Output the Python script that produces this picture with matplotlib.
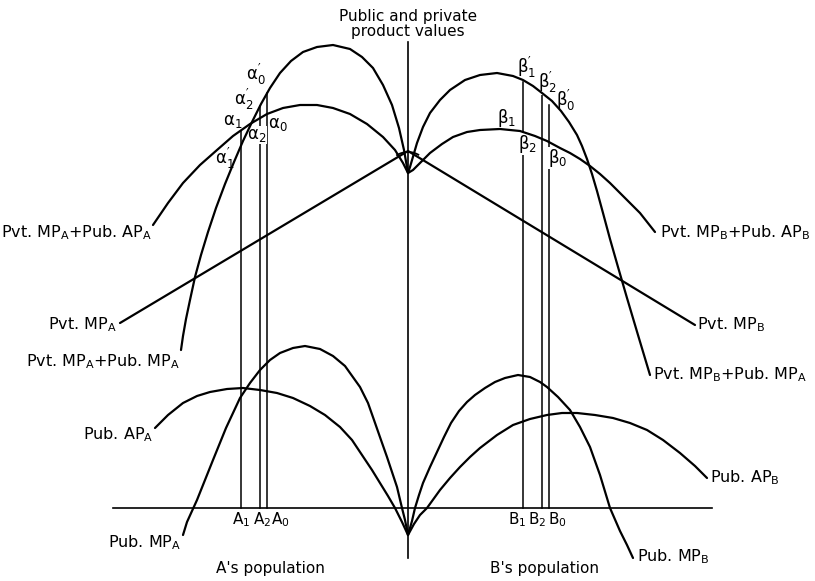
import matplotlib
matplotlib.use("Agg")
import matplotlib.pyplot as plt
from matplotlib.patches import Arc

plt.rcParams['font.family'] = ['DejaVu Sans']
plt.rcParams['mathtext.default'] = 'regular'

# --- curves (pixel coords, y grows downwards) ---
# A side (left of the vertical axis)
pvt_pub_ap_a_x = [153, 168, 183, 200, 217, 233, 250, 267, 283, 300, 317, 333, 350, 367, 383, 395, 403, 408]
pvt_pub_ap_a_y = [225, 203, 183, 165, 150, 136, 124, 114, 108, 105, 105, 108, 114, 124, 137, 150, 163, 173]

pvt_pub_mp_a_x = [181, 183, 186, 190, 195, 201, 208, 216, 225, 234, 243, 252, 261, 270, 280, 291, 303, 317, 333,
                  350, 362, 373, 383, 392, 399, 404, 408]
pvt_pub_mp_a_y = [350, 336, 319, 300, 277, 255, 232, 208, 184, 162, 141, 122, 104, 88, 73, 61, 52, 47, 45,
                  49, 57, 68, 85, 105, 128, 150, 173]

pvt_mp_a_x = [120, 408]
pvt_mp_a_y = [323, 151]

pub_ap_a_x = [155, 168, 183, 197, 210, 227, 243, 260, 277, 293, 310, 325, 340, 352, 362, 372, 380, 388, 395, 402, 408]
pub_ap_a_y = [428, 415, 403, 396, 392, 389, 388, 390, 393, 398, 406, 415, 427, 440, 455, 470, 483, 496, 508, 522, 535]

pub_mp_a_x = [183, 187, 197, 205, 213, 226, 240, 250, 260, 270, 280, 293, 305, 320, 333, 345, 360, 368, 374, 381, 387,
              392, 397, 402, 405, 408]
pub_mp_a_y = [535, 522, 500, 480, 460, 428, 398, 383, 370, 360, 353, 348, 346, 349, 356, 366, 387, 403, 420, 440, 457,
              472, 487, 508, 520, 535]

# B side (right of the vertical axis)
pvt_pub_mp_b_x = [408, 410, 417, 423, 430, 440, 450, 465, 480, 497, 513, 523, 533, 542, 552, 561, 569, 577, 582,
                  587, 592, 597, 603, 610, 618, 627, 638, 650]
pvt_pub_mp_b_y = [173, 167, 143, 127, 113, 100, 90, 80, 75, 73, 76, 80, 86, 93, 101, 111, 122, 135, 146,
                  159, 174, 191, 213, 239, 267, 298, 335, 375]

pvt_pub_ap_b_x = [408, 413, 420, 430, 442, 453, 467, 480, 500, 520, 535, 547, 560, 570, 580, 590, 600, 610, 620,
                  640, 655]
pvt_pub_ap_b_y = [173, 170, 163, 153, 144, 137, 132, 130, 129, 131, 136, 141, 148, 153, 159, 166, 174, 183, 193,
                  213, 232]

pvt_mp_b_x = [408, 695]
pvt_mp_b_y = [151, 325]

pub_mp_b_x = [408, 412, 415, 419, 423, 430, 437, 444, 451, 459, 467, 475, 485, 495, 505, 518, 530, 540, 547, 558,
              570, 580, 590, 600, 610, 620, 627, 633]
pub_mp_b_y = [535, 521, 508, 495, 483, 467, 452, 437, 423, 411, 402, 395, 388, 382, 378, 375, 377, 382, 387, 397,
              410, 427, 447, 475, 508, 531, 545, 558]

pub_ap_b_x = [408, 414, 420, 427, 440, 450, 460, 470, 480, 497, 513, 530, 547, 562, 577, 595, 613, 630, 647, 663,
              680, 695, 707]
pub_ap_b_y = [535, 524, 515, 508, 490, 478, 467, 457, 448, 435, 425, 419, 415, 413, 413, 415, 418, 423, 430, 440,
              453, 466, 478]

# equilibrium population lines: x position and top of the line
a_lines_x = [241, 260, 267]
a_lines_top = [130, 106, 93]
a_names = ['A$_1$', 'A$_2$', 'A$_0$']
b_lines_x = [523, 542, 549]
b_lines_top = [82, 93, 105]
b_names = ['B$_1$', 'B$_2$', 'B$_0$']

fig = plt.figure(figsize=(8.15, 5.81), dpi=100)
ax = fig.add_axes([0, 0, 1, 1])
ax.set_xlim(0, 815)
ax.set_ylim(581, 0)
ax.axis('off')

lw = 1.6
curves = [
    (pvt_pub_ap_a_x, pvt_pub_ap_a_y), (pvt_pub_mp_a_x, pvt_pub_mp_a_y),
    (pvt_mp_a_x, pvt_mp_a_y), (pub_ap_a_x, pub_ap_a_y), (pub_mp_a_x, pub_mp_a_y),
    (pvt_pub_mp_b_x, pvt_pub_mp_b_y), (pvt_pub_ap_b_x, pvt_pub_ap_b_y),
    (pvt_mp_b_x, pvt_mp_b_y), (pub_mp_b_x, pub_mp_b_y), (pub_ap_b_x, pub_ap_b_y),
]
for cx, cy in curves:
    ax.plot(cx, cy, color='black', lw=lw, solid_joinstyle='round', solid_capstyle='round', zorder=3)

# axes
ax.plot([113, 712], [508, 508], color='black', lw=1.2, zorder=2)
ax.plot([408, 408], [42, 558], color='black', lw=1.2, zorder=2)

# angle mark at the top kink
ax.add_patch(Arc((408, 173), 42, 42, theta1=236, theta2=302, color='black', lw=1.3, zorder=3))

# vertical lines
for x, top in zip(a_lines_x + b_lines_x, a_lines_top + b_lines_top):
    ax.plot([x, x], [508, top], color='black', lw=1.1, zorder=1)

# labels on the axes
for x, name in zip([241, 262, 280], a_names):
    ax.text(x, 520, name, ha='center', va='center', fontsize=11)
for x, name in zip([517, 537, 557], b_names):
    ax.text(x, 520, name, ha='center', va='center', fontsize=11)

ax.text(408, 24, 'Public and private\nproduct values', ha='center', va='center',
        fontsize=11, linespacing=1.05)
ax.text(270, 568, "A's population", ha='center', va='center', fontsize=11)
ax.text(545, 568, "B's population", ha='center', va='center', fontsize=11)

fs = 11.5
ax.text(152, 233, 'Pvt. MP$_A$+Pub. AP$_A$', ha='right', va='center', fontsize=fs)
ax.text(117, 325, 'Pvt. MP$_A$', ha='right', va='center', fontsize=fs)
ax.text(180, 362, 'Pvt. MP$_A$+Pub. MP$_A$', ha='right', va='center', fontsize=fs)
ax.text(153, 435, 'Pub. AP$_A$', ha='right', va='center', fontsize=fs)
ax.text(181, 543, 'Pub. MP$_A$', ha='right', va='center', fontsize=fs)

ax.text(660, 233, 'Pvt. MP$_B$+Pub. AP$_B$', ha='left', va='center', fontsize=fs)
ax.text(697, 325, 'Pvt. MP$_B$', ha='left', va='center', fontsize=fs)
ax.text(653, 375, 'Pvt. MP$_B$+Pub. MP$_A$', ha='left', va='center', fontsize=fs)
ax.text(710, 478, 'Pub. AP$_B$', ha='left', va='center', fontsize=fs)
ax.text(637, 557, 'Pub. MP$_B$', ha='left', va='center', fontsize=fs)

# intersection labels
greek = [
    (256, 74, r"$\alpha^{\prime}_{0}$"), (244, 99, r"$\alpha^{\prime}_{2}$"), (233, 121, r"$\alpha_1$"),
    (257, 135, r"$\alpha_2$"), (278, 124, r"$\alpha_0$"), (225, 158, r"$\alpha^{\prime}_{1}$"),
    (527, 67, r"$\beta^{\prime}_{1}$"), (548, 82, r"$\beta^{\prime}_{2}$"), (566, 100, r"$\beta^{\prime}_{0}$"),
    (507, 118, r"$\beta_1$"), (528, 144, r"$\beta_2$"), (558, 158, r"$\beta_0$"),
]
for gx, gy, s in greek:
    ax.text(gx, gy, s, ha='center', va='center', fontsize=12,
            bbox=dict(facecolor='white', edgecolor='none', pad=0.1), zorder=1.5)

fig.savefig('out.png', dpi=100)
